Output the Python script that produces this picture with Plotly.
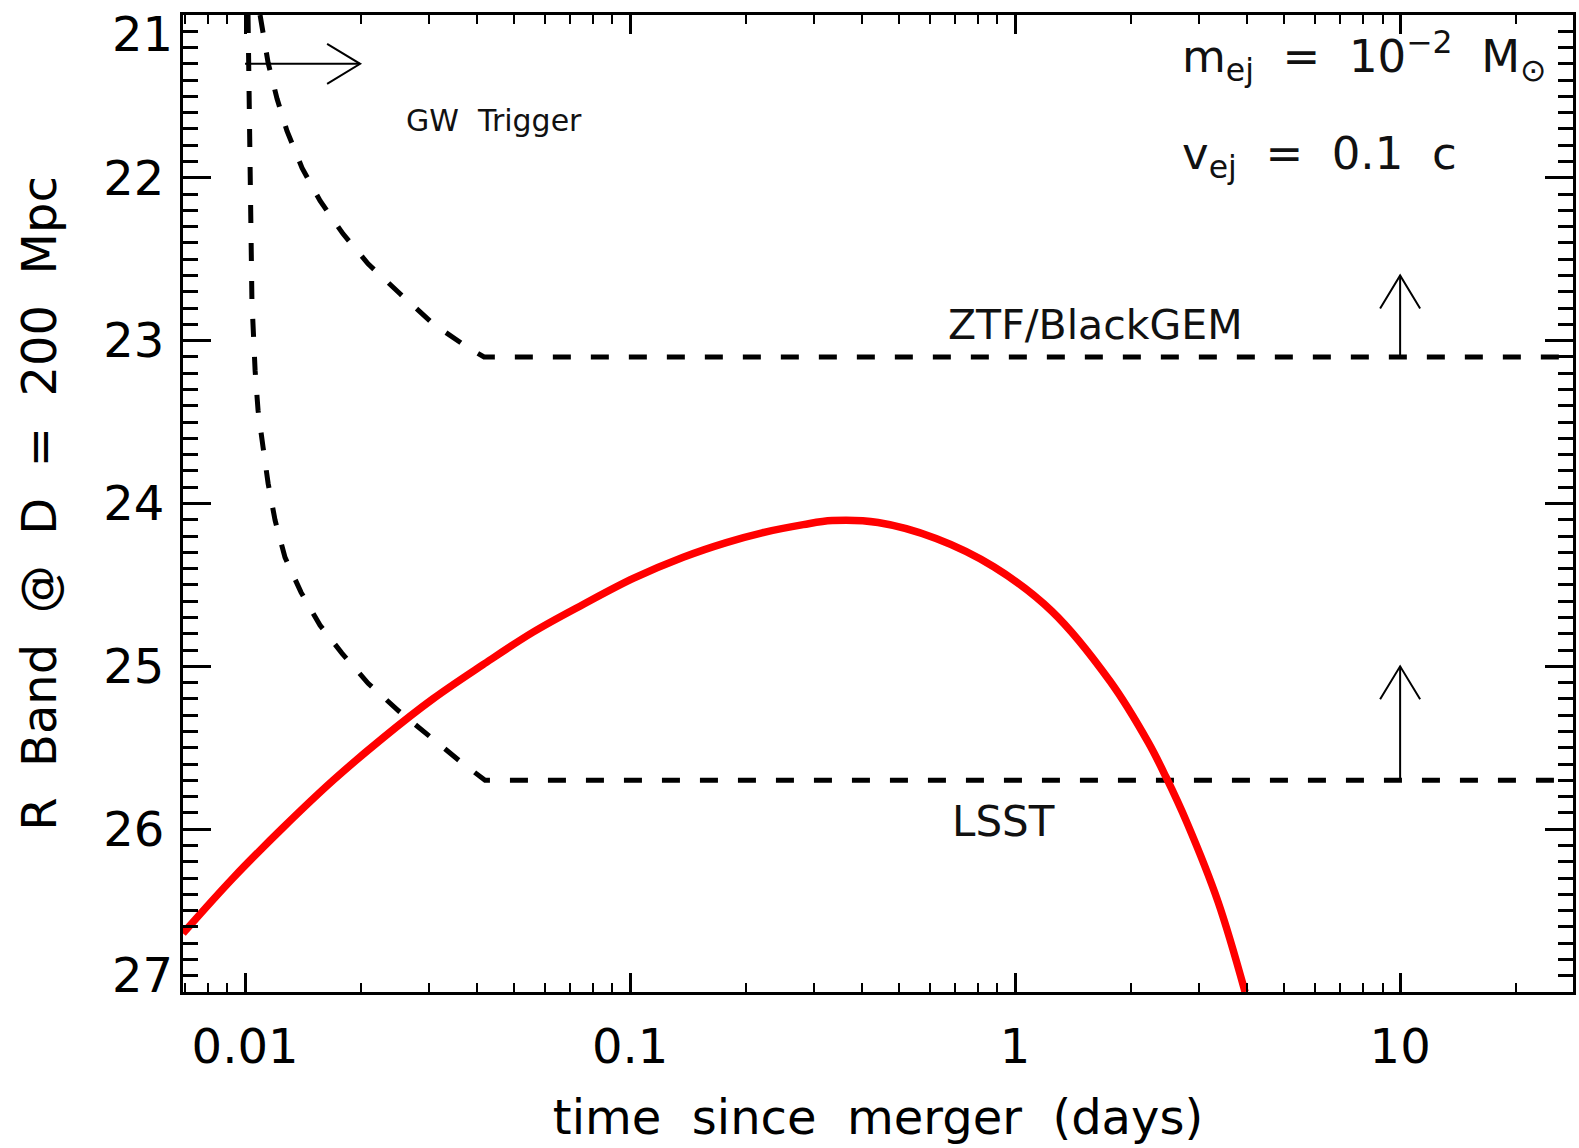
import numpy as np
import plotly.graph_objects as go

# ---------------- data ----------------
# Kilonova R-band light curve (red)
kn_t = [0.00690, 0.00931, 0.01256, 0.01694, 0.02280, 0.03076, 0.04150,
        0.05598, 0.07551, 0.1019, 0.1374, 0.1778, 0.2203, 0.2818, 0.3350,
        0.4406, 0.6233, 0.8820, 1.248, 1.765, 2.216, 2.467, 2.798, 3.368, 3.957]
kn_mag = [26.64, 26.30, 25.99, 25.70, 25.44, 25.20, 24.99,
          24.79, 24.62, 24.46, 24.33, 24.24, 24.18, 24.13, 24.105,
          24.117, 24.215, 24.390, 24.663, 25.092, 25.466, 25.681, 25.963, 26.448, 27.00]

# LSST limiting magnitude curve (dashed)
lsst_t = [0.01018, 0.01024, 0.01030, 0.01042, 0.01062, 0.01081, 0.01114, 0.01148,
          0.01197, 0.01270, 0.01398, 0.01566, 0.01786, 0.02087, 0.02512, 0.03024,
          0.03618, 0.04201, 30.0]
lsst_mag = [21.000, 21.528, 22.141, 22.755, 23.184, 23.429, 23.656, 23.877,
            24.104, 24.331, 24.546, 24.748, 24.920, 25.104, 25.276, 25.436,
            25.583, 25.700, 25.700]

# ZTF/BlackGEM limiting magnitude curve (dashed)
ztf_t = [0.01094, 0.01148, 0.01211, 0.01285, 0.01406, 0.01566, 0.01797, 0.02087,
         0.02527, 0.03079, 0.03727, 0.04176, 30.0]
ztf_mag = [21.000, 21.294, 21.515, 21.712, 21.939, 22.141, 22.344, 22.528,
           22.712, 22.896, 23.031, 23.100, 23.100]

# Arrows (tail -> tip)
arrow_tail_t = [0.01, 10.0, 10.0]
arrow_tail_mag = [21.30, 23.10, 25.70]
arrow_tip_t = [0.0199, 10.0, 10.0]
arrow_tip_mag = [21.30, 22.60, 25.00]

x_tickvals = [0.01, 0.1, 1, 10]
x_ticktext = ["0.01", "0.1", "1", "10"]
y_tickvals = [21, 22, 23, 24, 25, 26, 27]
y_ticktext = ["", "22", "23", "24", "25", "26", ""]
# end labels drawn nudged inward, as in the original figure
y_edge_labels = ["21", "27"]
y_edge_label_mag = [21.117, 26.896]

# ---------------- layout geometry ----------------
W, H = 1579, 1148
ML, MR, MT, MB = 183, 6, 15, 156
plot_w = W - ML - MR
plot_h = H - MT - MB
x_range = [np.log10(0.0069), 1.449]
y_range = [27, 21]
px_per_dec = plot_w / (x_range[1] - x_range[0])
px_per_mag = plot_h / (y_range[0] - y_range[1])

FONT = "DejaVu Sans"
DASH = "18px,20px"

fig = go.Figure()

fig.add_trace(go.Scatter(x=lsst_t, y=lsst_mag, mode="lines",
                         line=dict(color="black", width=5, dash=DASH),
                         showlegend=False, hoverinfo="skip"))
fig.add_trace(go.Scatter(x=ztf_t, y=ztf_mag, mode="lines",
                         line=dict(color="black", width=5, dash=DASH),
                         showlegend=False, hoverinfo="skip"))
fig.add_trace(go.Scatter(x=kn_t, y=kn_mag, mode="lines",
                         line=dict(color="#ff0000", width=7.5, shape="spline", smoothing=1.0),
                         showlegend=False, hoverinfo="skip"))

# Arrows with open V heads
head_len_px, head_half_px = 33.0, 20.0
for t0, m0, t1, m1 in zip(arrow_tail_t, arrow_tail_mag, arrow_tip_t, arrow_tip_mag):
    lx0, lx1 = np.log10(t0), np.log10(t1)
    dxp = (lx1 - lx0) * px_per_dec
    dyp = (m1 - m0) * px_per_mag
    L = np.hypot(dxp, dyp)
    ux, uy = dxp / L, dyp / L
    nx, ny = -uy, ux
    arms = []
    for s in (1, -1):
        px = -ux * head_len_px + s * nx * head_half_px
        py = -uy * head_len_px + s * ny * head_half_px
        arms.append((10 ** (lx1 + px / px_per_dec), m1 + py / px_per_mag))
    xs = [t0, t1, None, arms[0][0], t1, arms[1][0]]
    ys = [m0, m1, None, arms[0][1], m1, arms[1][1]]
    fig.add_trace(go.Scatter(x=xs, y=ys, mode="lines",
                             line=dict(color="black", width=2),
                             showlegend=False, hoverinfo="skip"))

# helpers: page pixel -> data coordinate
def lx(px):
    return x_range[0] + (px - ML) / px_per_dec

def my(py):
    return y_range[1] + (py - MT) / px_per_mag

annos = [
    dict(text="GW  Trigger", x=lx(494), y=my(120), size=30, xanchor="center"),
    dict(text="ZTF/BlackGEM", x=lx(1095), y=my(325), size=41, xanchor="center"),
    dict(text="LSST", x=lx(1003), y=my(821), size=42, xanchor="center"),
    dict(text="m<sub>ej</sub>  =  10<sup>−2</sup>  M<sub>⊙</sub>", x=lx(1180), y=my(56), size=45, xanchor="left"),
    dict(text="v<sub>ej</sub>  =  0.1  c", x=lx(1180), y=my(156), size=45, xanchor="left"),
]
for a in annos:
    fig.add_annotation(text=a["text"], x=a["x"], y=a["y"], xref="x", yref="y",
                       showarrow=False, xanchor=a["xanchor"], yanchor="middle",
                       font=dict(family=FONT, size=a["size"], color="#111111"))

for lab, m in zip(y_edge_labels, y_edge_label_mag):
    fig.add_annotation(text=lab, x=0, y=m, xref="paper", yref="y",
                       showarrow=False, xanchor="right", yanchor="middle", xshift=-8,
                       font=dict(family=FONT, size=48, color="black"))

fig.update_layout(
    width=W, height=H,
    margin=dict(l=ML, r=MR, t=MT, b=MB, autoexpand=False),
    paper_bgcolor="white", plot_bgcolor="white",
    font=dict(family=FONT, color="black"),
    showlegend=False,
)

fig.update_xaxes(
    type="log", range=x_range, automargin=False,
    showline=True, linewidth=3, linecolor="black", mirror="allticks",
    ticks="inside", ticklen=19, tickwidth=2.5, tickcolor="black",
    tickvals=x_tickvals, ticktext=x_ticktext,
    tickfont=dict(size=48, family=FONT, color="black"),
    ticklabelstandoff=10,
    minor=dict(ticks="inside", ticklen=9, tickwidth=2, tickcolor="black", dtick="D1", showgrid=False),
    showgrid=False, zeroline=False,
    title=dict(text="time  since  merger  (days)", font=dict(size=48, family=FONT, color="black"), standoff=28),
)
fig.update_yaxes(
    range=y_range, automargin=False,
    showline=True, linewidth=3, linecolor="black", mirror="allticks",
    ticks="inside", ticklen=28, tickwidth=2.5, tickcolor="black",
    tickvals=y_tickvals, ticktext=y_ticktext,
    tickfont=dict(size=48, family=FONT, color="black"),
    ticklabelstandoff=6,
    minor=dict(ticks="inside", ticklen=15, tickwidth=2.5, tickcolor="black", dtick=0.1, showgrid=False),
    showgrid=False, zeroline=False,
    title=dict(text="R  Band  @  D  =  200  Mpc", font=dict(size=48, family=FONT, color="black"), standoff=32),
)

fig.write_html("out.html", config={"displayModeBar": False},
               post_script="document.body.style.margin='0';document.body.style.overflow='hidden';")
